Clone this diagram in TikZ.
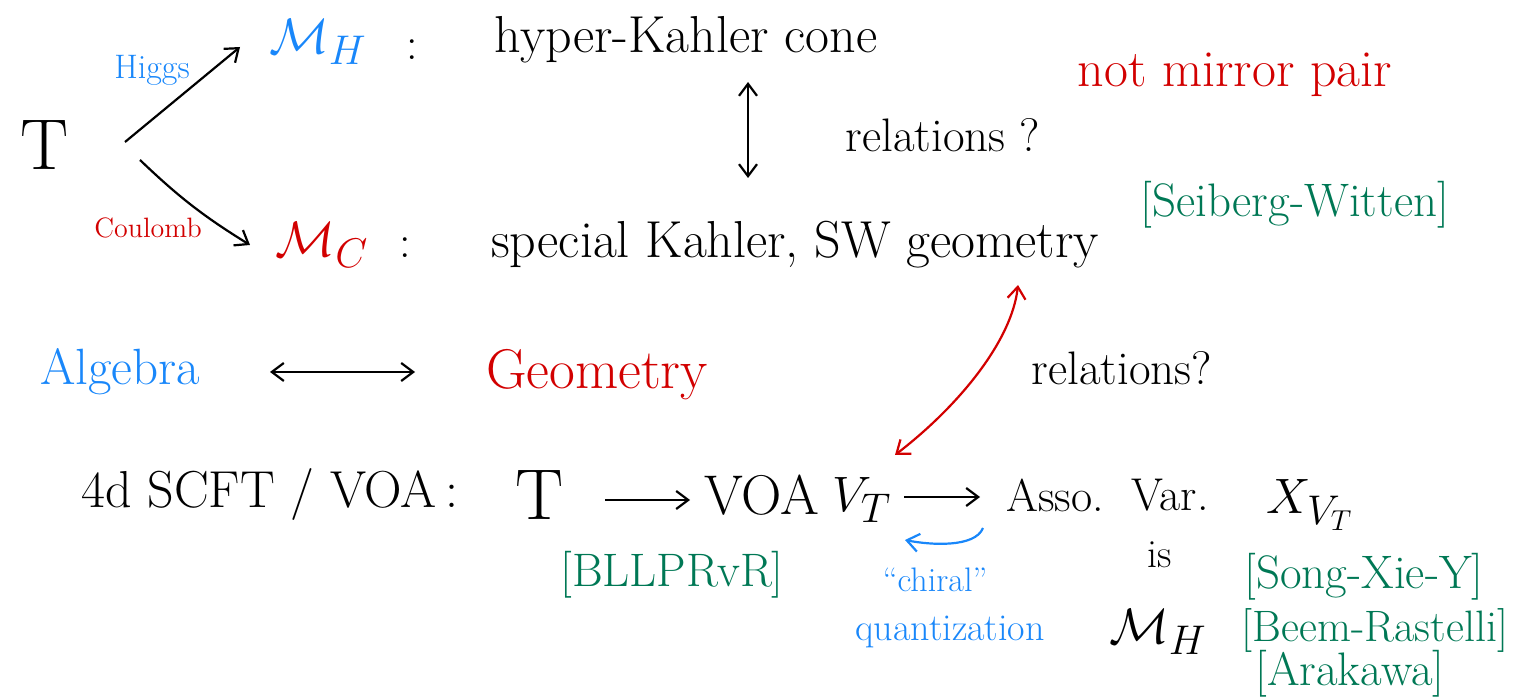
\documentclass[tikz,border=0pt]{standalone}
\usepackage{amsmath}
\usetikzlibrary{arrows.meta}
\definecolor{hblue}{RGB}{25,135,250}
\definecolor{hred}{RGB}{210,0,0}
\definecolor{hgreen}{RGB}{0,120,85}
\tikzset{
  fa/.style={inner sep=1pt, font=\fontsize{14}{16}\selectfont},
  fb/.style={inner sep=1pt, font=\fontsize{17}{20}\selectfont},
  fq/.style={inner sep=1pt, font=\fontsize{19}{22}\selectfont},
  fc/.style={inner sep=1pt, font=\fontsize{20}{24}\selectfont},
  fr/.style={inner sep=1pt, font=\fontsize{22}{26}\selectfont},
  fs/.style={inner sep=1pt, font=\fontsize{23.5}{27}\selectfont},
  fd/.style={inner sep=1pt, font=\fontsize{23}{27}\selectfont},
  fh/.style={inner sep=1pt, font=\fontsize{25.5}{29}\selectfont},
  fe/.style={inner sep=1pt, font=\fontsize{26}{30}\selectfont},
  fk/.style={inner sep=1pt, font=\fontsize{28}{32}\selectfont},
  ff/.style={inner sep=1pt, font=\fontsize{30}{34}\selectfont},
  fg/.style={inner sep=1pt, font=\fontsize{36}{40}\selectfont},
  hb/.tip={Straight Barb[length=6pt,width=9pt]},
  arr/.style={line width=1.1pt, -hb},
  darr/.style={line width=1.1pt, hb-hb},
}
\begin{document}
\begin{tikzpicture}[x=0.5pt,y=-0.5pt]
\useasboundingbox (0,0) rectangle (1526,699);
% top part
\node[fg] (T) at (45,145) {T};
\node[ff, text=hblue] (MH) at (318,42) {$\mathcal{M}_H$};
\node[fd] (c1) at (412,50) {:};
\node[fe] (hk) at (686,40) {hyper-Kahler cone};
\node[ff, text=hred] (MC) at (322,245) {$\mathcal{M}_C$};
\node[fd] (c2) at (405,248) {:};
\node[fe] (sk) at (795,245) {special Kahler, SW geometry};
\node[fs] (rel1) at (943,135) {relations ?};
\node[fe, text=hred] (nmp) at (1235,75) {not mirror pair};
\node[fs, text=hgreen] (sw) at (1295,205) {[Seiberg-Witten]};
\node[fb, text=hblue] (higgs) at (152,70) {Higgs};
\node[fa, text=hred] (coul) at (148,228) {Coulomb};
% middle
\node[fh, text=hblue] (alg) at (120,372) {Algebra};
\node[fk, text=hred] (geo) at (597,375) {Geometry};
\node[fs] (rel2) at (1122,368) {relations?};
% bottom row
\node[fe] (scft) at (270,495) {4d SCFT / VOA\,:};
\node[fg] (T2) at (540,495) {T};
\node[fk] (voa) at (762,495) {VOA};
\node[ff] (VT) at (862,500) {$V_T$};
\node[fd] (asso) at (1055,495) {Asso.};
\node[fd] (var) at (1170,495) {Var.};
\node[ff] (X) at (1310,505) {$X_{V_T}$};
\node[fs, text=hgreen] (bl) at (672,575) {[BLLPRvR]};
\node[fb, text=hblue] (chir) at (935,580) {``chiral''};
\node[fq, text=hblue] (quant) at (950,632) {quantization};
\node[fc] (is) at (1160,555) {is};
\node[ff] (MH2) at (1158,632) {$\mathcal{M}_H$};
\node[fs, text=hgreen] (sxy) at (1364,577) {[Song-Xie-Y]};
\node[fr, text=hgreen] (br) at (1375,630) {[Beem-Rastelli]};
\node[fs, text=hgreen] (ar) at (1350,674) {[Arakawa]};
% connectors
\draw[arr] ([shift={(80,-3)}]T.center) -- ([shift={(-78,5)}]MH.center);
\draw[arr] ([shift={(95,15)}]T.center) to[bend right=6] ([shift={(-72,0)}]MC.center);
\draw[darr] ([shift={(62,42)}]hk.center) -- ([shift={(-47,-67)}]sk.center);
\draw[darr] ([shift={(150,0)}]alg.center) -- ([shift={(-182,-3)}]geo.center);
\draw[darr, hred] ([shift={(223,40)}]sk.center) .. controls (1012,340) and (960,405) .. ([shift={(33,-45)}]VT.center);
\draw[arr] ([shift={(65,5)}]T2.center) -- ([shift={(-72,5)}]voa.center);
\draw[arr] ([shift={(42,-3)}]VT.center) -- ([shift={(-75,2)}]asso.center);
\draw[arr, hblue] ([shift={(-72,33)}]asso.center) .. controls (975,548) and (930,545) .. ([shift={(43,40)}]VT.center);
\end{tikzpicture}
\end{document}
